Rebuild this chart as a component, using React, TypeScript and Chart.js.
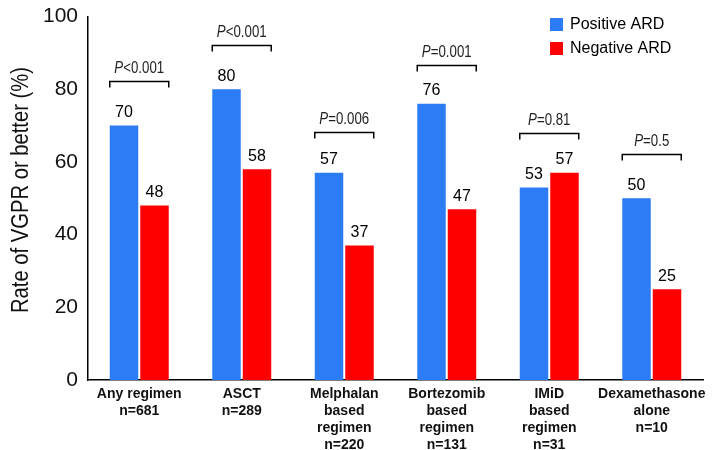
import React, { useEffect, useRef } from 'react';
import { Chart, registerables } from 'chart.js';
Chart.register(...registerables);

const categories: string[][] = [
  ['Any regimen', 'n=681'],
  ['ASCT', 'n=289'],
  ['Melphalan', 'based', 'regimen', 'n=220'],
  ['Bortezomib', 'based', 'regimen', 'n=131'],
  ['IMiD', 'based', 'regimen', 'n=31'],
  ['Dexamethasone', 'alone', 'n=10'],
];
const seriesNames = ['Positive ARD', 'Negative ARD'];
const positiveARD = [70, 80, 57, 76, 53, 50];
const negativeARD = [48, 58, 37, 47, 57, 25];
const pValues = ['<0.001', '<0.001', '=0.006', '=0.001', '=0.81', '=0.5'];
const bracketLevels = [82.4, 92.2, 68.2, 86.8, 67.9, 62.3];
const yTicks = [0, 20, 40, 60, 80, 100];
const yTitle = 'Rate of VGPR or better (%)';

const BLUE = '#2C7CF6';
const RED = '#FF0000';
const SANS = '"Liberation Sans", Arial, Helvetica, sans-serif';

function condensedText(ctx: any, text: string, x: number, y: number, sx: number) {
  ctx.save();
  ctx.translate(x, y);
  ctx.scale(sx, 1);
  ctx.fillText(text, 0, 0);
  ctx.restore();
}

const overlay = {
  id: 'overlay',
  afterDatasetsDraw(chart: any) {
    const ctx = chart.ctx;
    const y = chart.scales.y;
    const m0 = chart.getDatasetMeta(0);
    const m1 = chart.getDatasetMeta(1);
    ctx.save();
    // y title (condensed)
    ctx.fillStyle = '#111';
    ctx.font = `23px ${SANS}`;
    ctx.textAlign = 'center';
    ctx.textBaseline = 'middle';
    const tw = ctx.measureText(yTitle).width;
    ctx.save();
    ctx.translate(22, 190);
    ctx.rotate(-Math.PI / 2);
    ctx.scale(246 / tw, 1);
    ctx.fillText(yTitle, 0, 0);
    ctx.restore();
    // value labels
    ctx.fillStyle = '#000';
    ctx.font = `16px ${SANS}`;
    ctx.textAlign = 'center';
    ctx.textBaseline = 'middle';
    [m0, m1].forEach((meta: any, di: number) => {
      const vals = di === 0 ? positiveARD : negativeARD;
      meta.data.forEach((bar: any, i: number) => {
        ctx.fillText(String(vals[i]), bar.x, y.getPixelForValue(vals[i]) - 13);
      });
    });
    // brackets
    ctx.strokeStyle = '#000';
    ctx.lineWidth = 1.5;
    const sx = 0.78;
    pValues.forEach((p, i) => {
      const b0 = m0.data[i];
      const b1 = m1.data[i];
      const x0 = b0.x - b0.width / 2;
      const x1 = b1.x + b1.width / 2;
      const by = Math.round(y.getPixelForValue(bracketLevels[i])) + 0.5;
      ctx.beginPath();
      ctx.moveTo(x0, by + 6);
      ctx.lineTo(x0, by);
      ctx.lineTo(x1, by);
      ctx.lineTo(x1, by + 6);
      ctx.stroke();
      const pf = `italic 17px ${SANS}`;
      const rf = `17px ${SANS}`;
      ctx.font = pf;
      const wP = ctx.measureText('P').width * sx;
      ctx.font = rf;
      const wR = ctx.measureText(p).width * sx;
      const start = (x0 + x1) / 2 - (wP + wR) / 2;
      ctx.textAlign = 'left';
      ctx.fillStyle = '#222';
      ctx.font = pf;
      condensedText(ctx, 'P', start, by - 13, sx);
      ctx.font = rf;
      condensedText(ctx, p, start + wP, by - 13, sx);
    });
    // legend
    const colors = [BLUE, RED];
    ctx.font = `16px ${SANS}`;
    ctx.textAlign = 'left';
    seriesNames.forEach((name, i) => {
      const ty = 18 + i * 24;
      ctx.fillStyle = colors[i];
      ctx.fillRect(550, ty, 13, 13);
      ctx.fillStyle = '#000';
      ctx.fillText(name, 570, ty + 7);
    });
    ctx.restore();
  },
};

export default function App() {
  const ref = useRef<HTMLCanvasElement>(null);
  useEffect(() => {
    const chart = new Chart(ref.current!, {
      type: 'bar',
      data: {
        labels: categories,
        datasets: [
          { label: seriesNames[0], data: positiveARD, backgroundColor: BLUE },
          { label: seriesNames[1], data: negativeARD, backgroundColor: RED },
        ],
      },
      options: {
        animation: false,
        responsive: false,
        maintainAspectRatio: false,
        layout: { padding: { top: 15, right: 10, left: 0, bottom: 0 } },
        datasets: { bar: { categoryPercentage: 0.595, barPercentage: 0.934 } },
        plugins: { legend: { display: false }, tooltip: { enabled: false } },
        scales: {
          x: {
            grid: { display: false, drawTicks: false },
            border: { display: true, color: '#000', width: 1.5 },
            ticks: {
              color: '#111',
              font: { family: SANS, size: 14, weight: 'bold', lineHeight: 1.2 },
              padding: 6,
              maxRotation: 0,
              autoSkip: false,
            },
            afterFit(s: any) { s.height = 70; },
          },
          y: {
            min: 0,
            max: 100,
            afterBuildTicks(s: any) { s.ticks = yTicks.map((v) => ({ value: v })); },
            grid: { display: false, drawOnChartArea: false, drawTicks: true, tickLength: 6, tickColor: '#000', tickWidth: 1.5 },
            border: { display: true, color: '#000', width: 1.5 },
            ticks: { color: '#111', font: { family: SANS, size: 21 }, padding: 4 },
            afterFit(s: any) { s.width = 88; },
          },
        },
      },
      plugins: [overlay],
    } as any);
    return () => chart.destroy();
  }, []);
  return (
    <div style={{ position: 'absolute', left: 0, top: 0, width: 713, height: 450, background: '#fff' }}>
      <canvas ref={ref} width={713} height={450} style={{ display: 'block' }} />
    </div>
  );
}
